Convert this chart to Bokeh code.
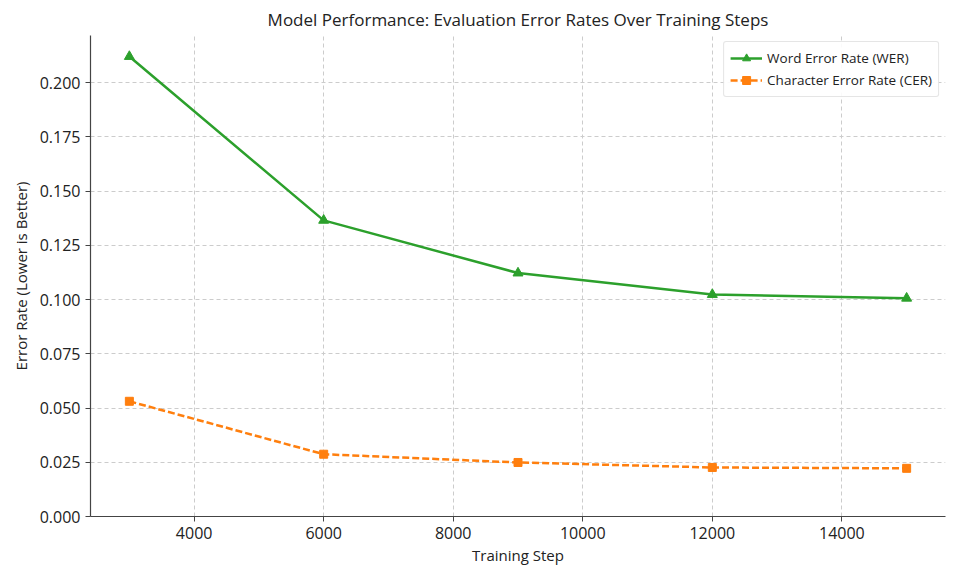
from bokeh.plotting import figure
from bokeh.models import Range1d, FixedTicker, Legend, LegendItem, CustomJSTickFormatter
from bokeh.embed import file_html
from bokeh.resources import INLINE

steps = [3000, 6000, 9000, 12000, 15000]
wer = [0.212, 0.1365, 0.1122, 0.1023, 0.1006]
cer = [0.0531, 0.0287, 0.0249, 0.0226, 0.0222]
x_ticks = [4000, 6000, 8000, 10000, 12000, 14000]
y_ticks = [0.0, 0.025, 0.05, 0.075, 0.1, 0.125, 0.15, 0.175, 0.2]

FONT = "Open Sans"
GREEN = "#2ca02c"
ORANGE = "#ff7f0e"

p = figure(width=952, height=568, output_backend="svg", toolbar_location=None,
           x_range=Range1d(2400, 15600), y_range=Range1d(0, 0.2217),
           min_border_left=90, min_border_right=7, min_border_top=35, min_border_bottom=52)

p.title.text = "Model Performance: Evaluation Error Rates Over Training Steps"
p.title.align = "center"
p.title.text_font = FONT
p.title.text_font_size = "17px"
p.title.text_font_style = "normal"
p.title.text_color = "#222222"

p.outline_line_color = None
for ax in (p.xaxis, p.yaxis):
    ax.axis_line_color = "#444444"
    ax.axis_line_width = 1.2
    ax.major_tick_line_color = "#444444"
    ax.major_tick_out = 5
    ax.major_tick_in = 0
    ax.minor_tick_line_color = None
    ax.major_label_text_font = FONT
    ax.major_label_text_font_size = "16px"
    ax.major_label_text_color = "#222222"
    ax.axis_label_text_font = FONT
    ax.axis_label_text_font_size = "15px"
    ax.axis_label_text_font_style = "normal"
    ax.axis_label_text_color = "#222222"

p.xaxis.ticker = FixedTicker(ticks=x_ticks)
p.yaxis.ticker = FixedTicker(ticks=y_ticks)
p.yaxis.formatter = CustomJSTickFormatter(code="return tick.toFixed(3);")
p.xaxis.axis_label = "Training Step"
p.yaxis.axis_label = "Error Rate (Lower is Better)"
p.xaxis.axis_label_standoff = 3
p.yaxis.axis_label_standoff = 6

for g in (p.xgrid, p.ygrid):
    g.grid_line_color = "#cccccc"
    g.grid_line_dash = "4 3"
    g.grid_line_width = 1
p.xgrid.ticker = FixedTicker(ticks=x_ticks)
p.ygrid.ticker = FixedTicker(ticks=y_ticks)

l1 = p.line(steps, wer, line_color=GREEN, line_width=2.5)
m1 = p.scatter(steps, wer, marker="triangle", size=10, fill_color=GREEN, line_color=GREEN)
l2 = p.line(steps, cer, line_color=ORANGE, line_width=2.5, line_dash="7 3")
m2 = p.scatter(steps, cer, marker="square", size=8, fill_color=ORANGE, line_color=ORANGE)

legend = Legend(items=[LegendItem(label="Word Error Rate (WER)", renderers=[l1, m1]),
                       LegendItem(label="Character Error Rate (CER)", renderers=[l2, m2])],
                location="top_right")
legend.label_text_font = FONT
legend.label_text_font_size = "13.5px"
legend.label_text_color = "#222222"
legend.border_line_color = "#cccccc"
legend.border_line_width = 1
legend.border_radius = 3
legend.background_fill_alpha = 0.9
legend.glyph_width = 32
legend.spacing = 2
legend.padding = 6
legend.margin = 6
p.add_layout(legend)

open("out.html", "w").write(file_html(p, INLINE))
